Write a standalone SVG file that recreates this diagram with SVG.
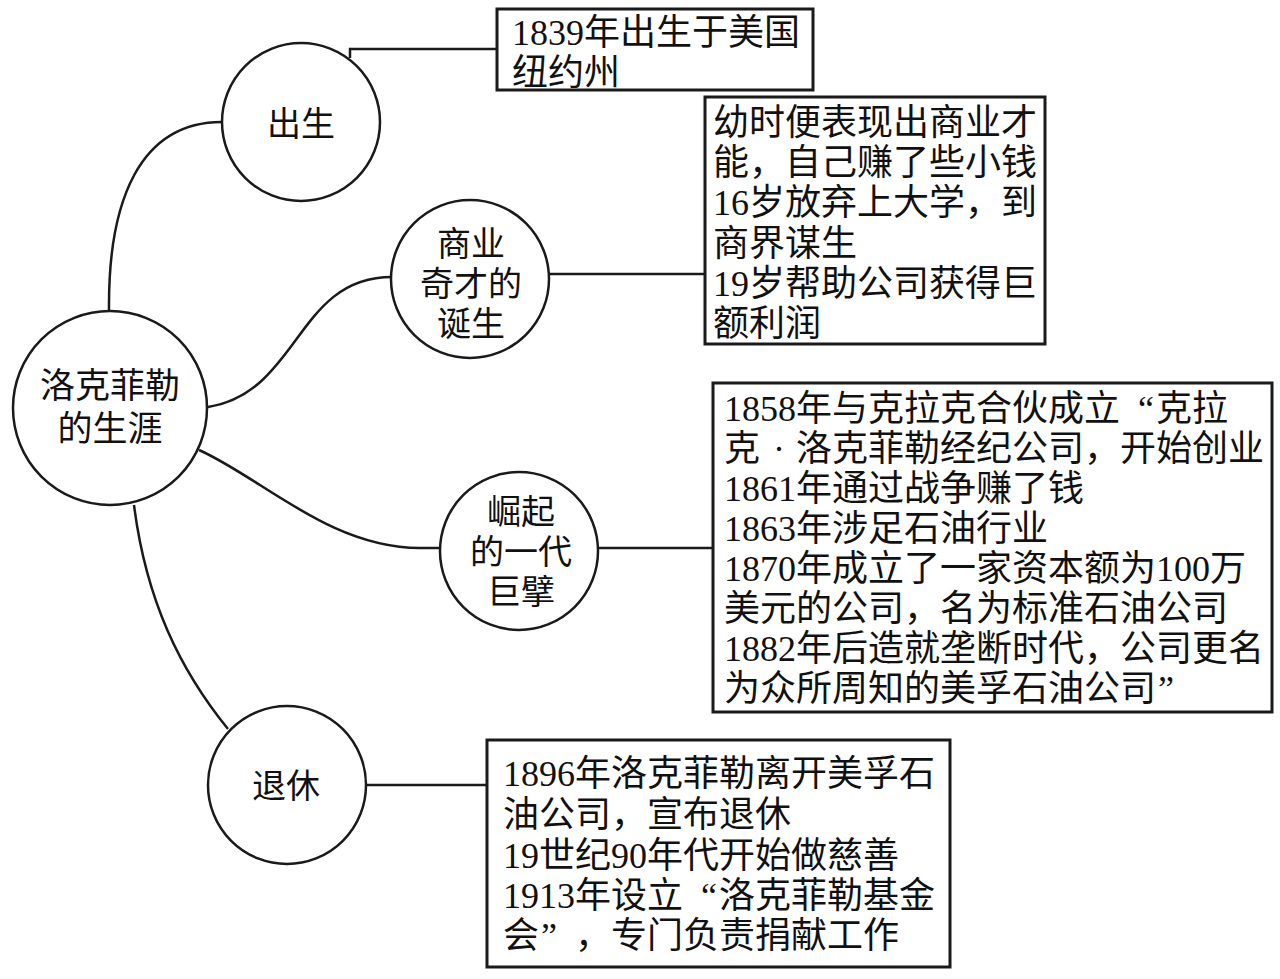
<svg xmlns="http://www.w3.org/2000/svg" width="1280" height="979" viewBox="0 0 1280 979">
<style>
.bg{fill:#ffffff}
.node{fill:#ffffff;stroke:#1a1a1a;stroke-width:2.5}
.box{fill:#ffffff;stroke:#1a1a1a;stroke-width:3}
.conn{fill:none;stroke:#1a1a1a;stroke-width:2.5}
text{font-family:"Liberation Serif","Noto Sans CJK SC",serif;fill:#111111}
.ct{font-size:34px;text-anchor:middle}
.mt{font-size:35px;text-anchor:middle}
.bt{font-size:36px}
</style>
<rect class="bg" x="0" y="0" width="1280" height="979"/>
<g id="connectors">
<path class="conn" d="M109,310 C108,200 140,122 222,122"/>
<path class="conn" d="M208,407 C300,392 296,277 392,277"/>
<path class="conn" d="M199,450 C262,478 330,548 420,548 L440,548"/>
<path class="conn" d="M134,505 C146,600 180,670 228,729"/>
<path class="conn" d="M350,58 L350,49 L497,49"/>
<path class="conn" d="M549,274 L705,274"/>
<path class="conn" d="M598,548 L713,548"/>
<path class="conn" d="M365,785 L487,785"/>
</g>
<g id="node-center">
<circle class="node" cx="110" cy="408" r="97"/>
<text class="mt" x="110" y="398">洛克菲勒</text>
<text class="mt" x="110" y="441">的生涯</text>
</g>
<g id="node-birth">
<circle class="node" cx="301" cy="122" r="79"/>
<text class="ct" x="301" y="136">出生</text>
</g>
<g id="node-talent">
<circle class="node" cx="470" cy="279" r="79"/>
<text class="ct" x="471" y="256">商业</text>
<text class="ct" x="471" y="296">奇才的</text>
<text class="ct" x="471" y="336">诞生</text>
</g>
<g id="node-rise">
<circle class="node" cx="519" cy="551" r="79"/>
<text class="ct" x="521" y="524">崛起</text>
<text class="ct" x="521" y="564">的一代</text>
<text class="ct" x="521" y="604">巨擘</text>
</g>
<g id="node-retire">
<circle class="node" cx="287" cy="785" r="79"/>
<text class="ct" x="286" y="798">退休</text>
</g>
<g id="box-birth">
<rect class="box" x="497" y="9" width="316" height="81"/>
<text class="bt" x="512" y="45">1839年出生于美国</text>
<text class="bt" x="512" y="85">纽约州</text>
</g>
<g id="box-talent">
<rect class="box" x="705" y="97" width="340" height="247"/>
<text class="bt" x="713" y="135">幼时便表现出商业才</text>
<text class="bt" x="713" y="175">能，自己赚了些小钱</text>
<text class="bt" x="713" y="215">16岁放弃上大学，到</text>
<text class="bt" x="713" y="256">商界谋生</text>
<text class="bt" x="713" y="296">19岁帮助公司获得巨</text>
<text class="bt" x="713" y="336">额利润</text>
</g>
<g id="box-rise">
<rect class="box" x="713" y="383" width="559" height="329"/>
<text class="bt" x="724" y="421">1858年与克拉克合伙成立<tspan x="1138">“</tspan><tspan x="1156">克拉</tspan></text>
<text class="bt" x="724" y="461">克<tspan x="773">·</tspan><tspan x="796">洛克菲勒经纪公司，开始创业</tspan></text>
<text class="bt" x="724" y="501">1861年通过战争赚了钱</text>
<text class="bt" x="724" y="541">1863年涉足石油行业</text>
<text class="bt" x="724" y="581">1870年成立了一家资本额为100万</text>
<text class="bt" x="724" y="621">美元的公司，名为标准石油公司</text>
<text class="bt" x="724" y="661">1882年后造就垄断时代，公司更名</text>
<text class="bt" x="724" y="701">为众所周知的美孚石油公司<tspan x="1158">”</tspan></text>
</g>
<g id="box-retire">
<rect class="box" x="487" y="740" width="463" height="227"/>
<text class="bt" x="503" y="786">1896年洛克菲勒离开美孚石</text>
<text class="bt" x="503" y="827">油公司，宣布退休</text>
<text class="bt" x="503" y="868">19世纪90年代开始做慈善</text>
<text class="bt" x="503" y="908">1913年设立<tspan x="701">“</tspan><tspan x="719">洛克菲勒基金</tspan></text>
<text class="bt" x="503" y="948">会<tspan x="541">”</tspan><tspan x="575">，专门负责捐献工作</tspan></text>
</g>
</svg>
